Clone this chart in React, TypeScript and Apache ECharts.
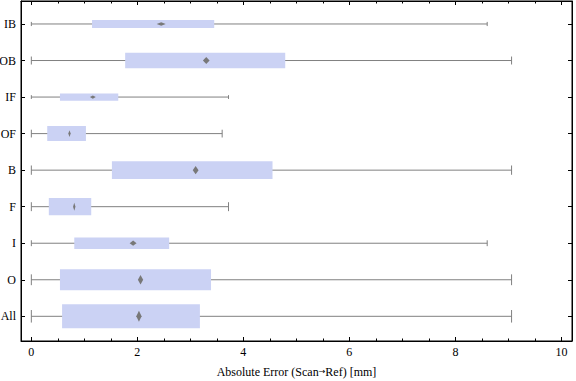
import React, { useEffect, useRef } from "react";
import * as echarts from "echarts";

// bottom-to-top order
const categories = ["All", "O", "I", "F", "B", "OF", "IF", "OB", "IB"];
const minValues = [0, 0, 0, 0, 0, 0, 0, 0, 0];
const q1Values = [0.58, 0.54, 0.81, 0.33, 1.52, 0.3, 0.54, 1.77, 1.145];
const meanValues = [2.03, 2.06, 1.92, 0.81, 3.1, 0.72, 1.16, 3.3, 2.45];
const q3Values = [3.18, 3.39, 2.6, 1.13, 4.55, 1.03, 1.64, 4.79, 3.45];
const maxValues = [9.06, 9.06, 8.6, 3.72, 9.06, 3.6, 3.72, 9.06, 8.6];
// relative box thickness (fraction of category band), from sample size
const boxThickness = [0.66, 0.57, 0.31, 0.47, 0.49, 0.41, 0.2, 0.42, 0.22];
// width of the mean diamond (mm)
const meanSpread = [0.1, 0.1, 0.13, 0.045, 0.11, 0.045, 0.11, 0.126, 0.17];

const xMajor = [0, 2, 4, 6, 8, 10];
const xMinor = [0.5, 1, 1.5, 2.5, 3, 3.5, 4.5, 5, 5.5, 6.5, 7, 7.5, 8.5, 9, 9.5];

const FONT = "'Liberation Serif', 'DejaVu Serif', serif";

export default function App() {
  const ref = useRef<HTMLDivElement>(null);
  useEffect(() => {
    if (!ref.current) return;
    const chart = echarts.init(ref.current, undefined, { renderer: "svg" });
    const data = categories.map((_, i) => [
      i,
      minValues[i],
      q1Values[i],
      meanValues[i],
      q3Values[i],
      maxValues[i],
      boxThickness[i],
      meanSpread[i],
    ]);
    const xMin = -0.195;
    const xMax = 10.2;
    const yMin = -0.676;
    const yMax = 8.629;
    const catTicks = categories.map((_, i) => i);
    const xAxisBase = {
      type: "value",
      min: xMin,
      max: xMax,
      gridIndex: 0,
      splitLine: { show: false },
    };
    const yAxisBase = {
      type: "value",
      min: yMin,
      max: yMax,
      gridIndex: 0,
      splitLine: { show: false },
    };
    const option: any = {
      animation: false,
      grid: {
        left: 21,
        right: 4,
        top: 1,
        bottom: 40,
        show: true,
        borderColor: "#000",
        borderWidth: 1,
        backgroundColor: "transparent",
        containLabel: false,
        outerBoundsMode: "none",
      },
      xAxis: [
        {
          ...xAxisBase,
          position: "bottom",
          axisLine: { show: true, onZero: false, lineStyle: { color: "#000", width: 1 } },
          axisTick: { show: true, inside: true, length: 4, customValues: xMajor, lineStyle: { color: "#000" } },
          axisLabel: {
            show: true,
            customValues: xMajor,
            formatter: (v: number) => String(Math.round(v)),
            fontFamily: FONT,
            fontSize: 12,
            color: "#000",
            margin: 5,
          },
          name: "Absolute Error (Scan{arr|\u2192}Ref) [mm]",
          nameLocation: "middle",
          nameGap: 25,
          nameTextStyle: {
            fontFamily: FONT,
            fontSize: 12,
            color: "#000",
            rich: {
              arr: { fontFamily: "'DejaVu Sans', sans-serif", fontSize: 8, color: "#000", padding: [0, 0, 1, 0] },
            },
          },
        },
        {
          ...xAxisBase,
          position: "bottom",
          axisLine: { show: false, onZero: false },
          axisTick: { show: true, inside: true, length: 2.5, customValues: xMinor, lineStyle: { color: "#000" } },
          axisLabel: { show: false },
        },
        {
          ...xAxisBase,
          position: "top",
          axisLine: { show: true, onZero: false, lineStyle: { color: "#000", width: 1 } },
          axisTick: { show: true, inside: true, length: 4, customValues: xMajor, lineStyle: { color: "#000" } },
          axisLabel: { show: false },
        },
        {
          ...xAxisBase,
          position: "top",
          axisLine: { show: false, onZero: false },
          axisTick: { show: true, inside: true, length: 2.5, customValues: xMinor, lineStyle: { color: "#000" } },
          axisLabel: { show: false },
        },
      ],
      yAxis: [
        {
          ...yAxisBase,
          position: "left",
          axisLine: { show: true, onZero: false, lineStyle: { color: "#000", width: 1 } },
          axisTick: { show: true, inside: true, length: 4, customValues: catTicks, lineStyle: { color: "#000" } },
          axisLabel: {
            show: true,
            customValues: catTicks,
            formatter: (v: number) => categories[Math.round(v)] ?? "",
            fontFamily: FONT,
            fontSize: 12,
            color: "#000",
            margin: 5,
          },
        },
        {
          ...yAxisBase,
          position: "right",
          axisLine: { show: true, onZero: false, lineStyle: { color: "#000", width: 1 } },
          axisTick: { show: true, inside: true, length: 4, customValues: catTicks, lineStyle: { color: "#000" } },
          axisLabel: { show: false },
        },
      ],
      series: [
        {
          type: "custom",
          xAxisIndex: 0,
          yAxisIndex: 0,
          data,
          renderItem: (params: any, api: any) => {
            const y = api.value(0);
            const mn = api.value(1);
            const q1 = api.value(2);
            const mean = api.value(3);
            const q3 = api.value(4);
            const mx = api.value(5);
            const wf = api.value(6);
            const spread = api.value(7);
            const band = api.size([0, 1])[1];
            const h = band * wf;
            const pMin = api.coord([mn, y]);
            const pMax = api.coord([mx, y]);
            const pQ1 = api.coord([q1, y]);
            const pQ3 = api.coord([q3, y]);
            const pMean = api.coord([mean, y]);
            const cy = pMin[1];
            const half = Math.max(1.2, (api.size([spread, 0])[0]) / 2);
            const dh = h * 0.23;
            const cap = h * 0.26;
            const stroke = { stroke: "#808080", lineWidth: 1 };
            return {
              type: "group",
              children: [
                { type: "line", shape: { x1: pMin[0], y1: cy, x2: pMax[0], y2: cy }, style: stroke },
                { type: "line", shape: { x1: pMin[0], y1: cy - cap, x2: pMin[0], y2: cy + cap }, style: stroke },
                { type: "line", shape: { x1: pMax[0], y1: cy - cap, x2: pMax[0], y2: cy + cap }, style: stroke },
                {
                  type: "rect",
                  shape: { x: pQ1[0], y: cy - h / 2, width: pQ3[0] - pQ1[0], height: h },
                  style: { fill: "#cbd2f4" },
                },
                {
                  type: "polygon",
                  shape: {
                    points: [
                      [pMean[0] - half, cy],
                      [pMean[0], cy - dh],
                      [pMean[0] + half, cy],
                      [pMean[0], cy + dh],
                    ],
                  },
                  style: { fill: "#787878" },
                },
              ],
            };
          },
        },
      ],
    };
    chart.setOption(option);
    return () => chart.dispose();
  }, []);
  return <div ref={ref} style={{ width: 576, height: 381, position: "absolute", left: 0, top: 0, background: "#fff" }} />;
}
